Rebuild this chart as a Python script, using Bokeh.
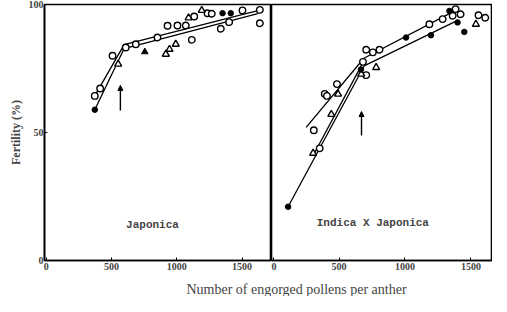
from bokeh.plotting import figure
from bokeh.layouts import column, row
from bokeh.models import FixedTicker, Label, Arrow, NormalHead
from bokeh.embed import file_html
from bokeh.resources import INLINE

# ---------------- data: Japonica panel ----------------
jap_open_x = [372, 413, 508, 609, 686, 852, 929, 1005, 1069, 1115, 1133, 1235, 1268, 1337, 1401, 1503, 1636, 1636]
jap_open_y = [64.3, 67.2, 80.0, 83.2, 84.5, 87.1, 91.7, 91.8, 91.8, 86.2, 95.3, 96.6, 96.4, 90.5, 93.1, 97.7, 97.9, 92.7]
jap_tri_x = [551, 916, 944, 992, 1090, 1191]
jap_tri_y = [76.7, 80.6, 82.5, 84.5, 94.8, 97.7]
jap_fill_x = [372, 1350, 1413]
jap_fill_y = [58.9, 96.6, 96.6]
jap_filltri_x = [755]
jap_filltri_y = [81.5]
jap_line_open_x = [372, 597, 1650]
jap_line_open_y = [64.3, 84.3, 98.0]
jap_line_fill_x = [372, 597, 1620]
jap_line_fill_y = [58.9, 82.8, 96.4]
jap_arrow = (568, 58.6, 68.4)

# ---------------- data: Indica x Japonica panel ----------------
ij_open_x = [308, 353, 391, 408, 484, 681, 706, 706, 756, 807, 1185, 1286, 1362, 1384, 1422, 1558, 1609]
ij_open_y = [50.9, 43.8, 65.1, 64.3, 68.9, 77.6, 72.4, 82.3, 81.3, 82.3, 92.3, 94.3, 95.6, 98.2, 96.2, 95.8, 94.8]
ij_tri_x = [303, 441, 492, 668, 781, 1538]
ij_tri_y = [41.9, 57.1, 65.0, 72.8, 75.4, 92.3]
ij_fill_x = [113, 666, 1008, 1197, 1337, 1399, 1450]
ij_fill_y = [21.0, 74.6, 87.1, 88.0, 97.5, 93.0, 89.3]
ij_line_open_x = [250, 688, 1384]
ij_line_open_y = [52.0, 79.0, 97.7]
ij_line_tri_x = [303, 681]
ij_line_tri_y = [41.0, 77.3]
ij_line_fill_x = [113, 690, 1384]
ij_line_fill_y = [21.0, 76.0, 93.4]
ij_arrow = (670, 48.8, 58.2)

x_ticks = [0, 500, 1000, 1500]
y_ticks = [0, 50, 100]

SERIF = "Liberation Serif"
MONO = "Liberation Mono"


def style(p, show_y):
    p.grid.visible = False
    p.outline_line_color = "black"
    p.outline_line_width = 1.6
    p.xaxis.ticker = FixedTicker(ticks=x_ticks)
    p.xaxis.minor_tick_line_color = None
    p.xaxis.major_tick_in = 3
    p.xaxis.major_tick_out = 0
    p.xaxis.axis_line_width = 1.6
    p.xaxis.major_label_text_font = SERIF
    p.xaxis.major_label_text_font_style = "bold"
    p.xaxis.major_label_text_font_size = "10px"
    p.xaxis.major_label_standoff = 2
    p.yaxis.ticker = FixedTicker(ticks=y_ticks)
    p.yaxis.minor_tick_line_color = None
    p.yaxis.major_tick_in = 3
    p.yaxis.major_tick_out = 0
    p.yaxis.axis_line_width = 1.6
    p.yaxis.major_label_text_font = SERIF
    p.yaxis.major_label_text_font_style = "bold"
    p.yaxis.major_label_text_font_size = "10px"
    p.yaxis.major_label_standoff = 1
    if not show_y:
        p.yaxis.visible = False


def draw(p, lines, opens, tris, fills, filltris, arrow):
    for lx, ly in lines:
        p.line(lx, ly, line_color="black", line_width=1.3)
    ax, ay0, ay1 = arrow
    p.add_layout(Arrow(end=NormalHead(size=5, fill_color="black", line_color="black"),
                       x_start=ax, y_start=ay0, x_end=ax, y_end=ay1,
                       line_color="black", line_width=1.4))
    p.scatter(opens[0], opens[1], marker="circle", size=6.5, fill_color="white",
              line_color="black", line_width=1.4)
    p.scatter(tris[0], tris[1], marker="triangle", size=7, fill_color="white",
              line_color="black", line_width=1.4)
    p.scatter(fills[0], fills[1], marker="circle", size=5.5, fill_color="black",
              line_color="black")
    if filltris:
        p.scatter(filltris[0], filltris[1], marker="triangle", size=6.5, fill_color="black",
                  line_color="black")


fl = figure(width=271, height=276, x_range=(-13, 1725), y_range=(0, 100),
            output_backend="svg", toolbar_location=None,
            min_border_left=44, min_border_right=0, min_border_top=4, min_border_bottom=16)
style(fl, True)
fl.yaxis.axis_label = "Fertility (%)"
fl.yaxis.axis_label_text_font = SERIF
fl.yaxis.axis_label_text_font_style = "bold"
fl.yaxis.axis_label_text_font_size = "12px"
fl.yaxis.axis_label_standoff = 3
draw(fl, [(jap_line_open_x, jap_line_open_y), (jap_line_fill_x, jap_line_fill_y)],
     (jap_open_x, jap_open_y), (jap_tri_x, jap_tri_y), (jap_fill_x, jap_fill_y),
     (jap_filltri_x, jap_filltri_y), jap_arrow)
fl.add_layout(Label(x=814, y=14, text="Japonica", text_font=MONO, text_font_style="bold",
                    text_font_size="11px", text_align="center", text_baseline="middle"))

fr = figure(width=221, height=276, x_range=(-13, 1664), y_range=(0, 100),
            output_backend="svg", toolbar_location=None,
            min_border_left=0, min_border_right=0, min_border_top=4, min_border_bottom=16)
style(fr, False)
draw(fr, [(ij_line_open_x, ij_line_open_y), (ij_line_tri_x, ij_line_tri_y),
          (ij_line_fill_x, ij_line_fill_y)],
     (ij_open_x, ij_open_y), (ij_tri_x, ij_tri_y), (ij_fill_x, ij_fill_y), None, ij_arrow)
fr.add_layout(Label(x=756, y=14.8, text="Indica X Japonica", text_font=MONO,
                    text_font_style="bold", text_font_size="11px", text_align="center",
                    text_baseline="middle"))

fb = figure(width=492, height=20, x_range=(0, 1), y_range=(0, 1),
            output_backend="svg", toolbar_location=None,
            min_border_left=0, min_border_right=0, min_border_top=0, min_border_bottom=0)
fb.axis.visible = False
fb.grid.visible = False
fb.outline_line_color = None
fb.add_layout(Label(x=296, y=7, x_units="screen", y_units="screen",
                    text="Number of engorged pollens per anther", text_font=SERIF,
                    text_font_size="14px", text_align="center", text_baseline="middle"))

layout = column(row(fl, fr), fb)
open("out.html", "w").write(file_html(layout, INLINE))
